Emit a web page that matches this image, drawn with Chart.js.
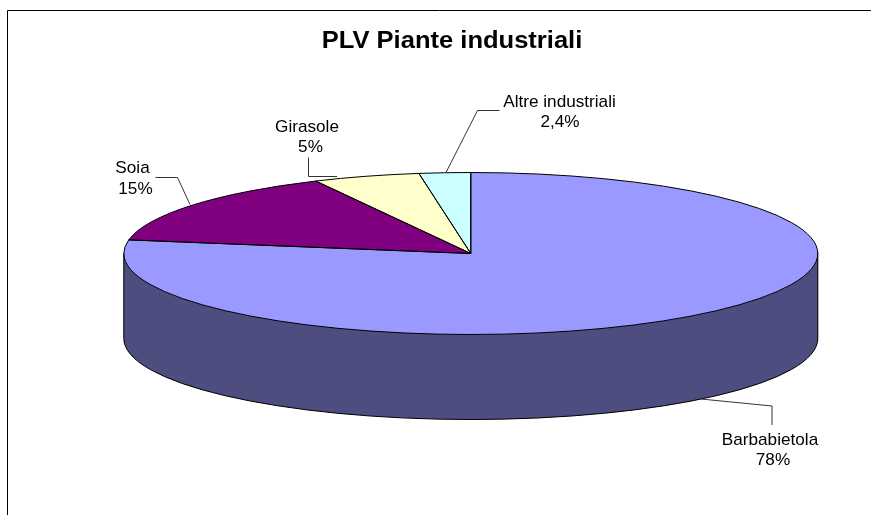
<!DOCTYPE html>
<html>
<head>
<meta charset="utf-8">
<style>html,body{margin:0;padding:0;background:#fff}canvas{display:block}</style>
<script src="https://cdn.jsdelivr.net/npm/chart.js@4"></script>
</head>
<body>
<canvas id="c" width="871" height="515"></canvas>
<script>
const chartTitle = 'PLV Piante industriali';
const categories = ['Barbabietola', 'Soia', 'Girasole', 'Altre industriali'];
const values = [78, 15, 5, 2.4];
const valueLabels = ['78%', '15%', '5%', '2,4%'];
const topColors = ['#9999FF', '#800080', '#FFFFCC', '#CCFFFF'];
const wallColors = ['#4D4D80', '#400040', '#808066', '#668080'];

// 3D pie geometry (tilted disc)
const disc = { cx: 470.8, cy: 253.5, rx: 347, ry: 81, depth: 85 };
const FONT = '"Liberation Sans", Arial, sans-serif';
const STRETCH = 1.01;

// label anchor: category centre/baseline, value centre/baseline
const labelPos = [
  { x: 770, y: 444.5, vx: 773, vy: 464.5 },
  { x: 132.5, y: 173, vx: 135.5, vy: 193.5 },
  { x: 307, y: 131.5, vx: 310.5, vy: 151.5 },
  { x: 559.5, y: 106.5, vx: 560, vy: 126.5 }
];
const leaders = [
  [[701, 399], [772, 406], [772, 425]],
  [[155.5, 177.5], [177.5, 177.5], [190, 204.5]],
  [[308.5, 157.5], [308.5, 176.5], [337, 176.5]],
  [[499.5, 110.5], [477.5, 110.5], [446, 172.5]]
];

function applyDisc(ctx, el, dy) {
  ctx.translate(disc.cx, disc.cy + dy);
  ctx.scale(disc.rx / el.outerRadius, disc.ry / el.outerRadius);
  ctx.translate(-el.x, -el.y);
}

function drawStretched(ctx, text, x, y) {
  ctx.save();
  ctx.translate(x, y);
  ctx.scale(STRETCH, 1);
  ctx.fillText(text, 0, 0);
  ctx.restore();
}

const disc3d = {
  id: 'disc3d',
  beforeDatasetsDraw(chart) {
    const ctx = chart.ctx;
    const arcs = chart.getDatasetMeta(0).data;
    // side wall: the front-facing slice repeated downwards in its dark colour
    arcs.forEach((el, i) => {
      if (!(el.startAngle < Math.PI && el.endAngle > 0)) return;
      const wall = Object.create(el);
      wall.options = Object.assign({}, el.options, { backgroundColor: wallColors[i], borderWidth: 0 });
      for (let d = disc.depth; d >= 1; d--) {
        ctx.save();
        applyDisc(ctx, el, d);
        wall.draw(ctx);
        ctx.restore();
      }
      // flatten the rounding left by the repeated antialiased fills
      ctx.save();
      ctx.globalCompositeOperation = 'source-atop';
      ctx.fillStyle = wallColors[i];
      ctx.fillRect(0, 0, chart.width, chart.height);
      ctx.restore();
    });
    ctx.save();
    applyDisc(ctx, arcs[0], 0);
  },
  afterDatasetsDraw(chart) {
    const ctx = chart.ctx;
    ctx.restore();
    const arcs = chart.getDatasetMeta(0).data;
    const { cx, cy, rx, ry, depth } = disc;

    // wall outline
    ctx.strokeStyle = '#000';
    ctx.lineWidth = 1;
    ctx.beginPath();
    ctx.moveTo(cx - rx, cy);
    ctx.lineTo(cx - rx, cy + depth);
    ctx.ellipse(cx, cy + depth, rx, ry, 0, Math.PI, 0, true);
    ctx.lineTo(cx + rx, cy);
    ctx.stroke();

    // slice outlines
    arcs.forEach(el => {
      ctx.beginPath();
      ctx.moveTo(cx, cy);
      ctx.ellipse(cx, cy, rx, ry, 0, el.startAngle, el.endAngle);
      ctx.closePath();
      ctx.stroke();
    });

    // frame
    ctx.beginPath();
    ctx.moveTo(7.5, 515);
    ctx.lineTo(7.5, 10.5);
    ctx.lineTo(871, 10.5);
    ctx.strokeStyle = '#000';
    ctx.stroke();

    // leader lines
    ctx.strokeStyle = '#333';
    leaders.forEach(pts => {
      ctx.beginPath();
      pts.forEach((p, i) => i ? ctx.lineTo(p[0], p[1]) : ctx.moveTo(p[0], p[1]));
      ctx.stroke();
    });

    // texts
    ctx.fillStyle = '#000';
    ctx.textAlign = 'center';
    ctx.textBaseline = 'alphabetic';
    ctx.font = '17px ' + FONT;
    categories.forEach((name, i) => {
      const p = labelPos[i];
      drawStretched(ctx, name, p.x, p.y);
      drawStretched(ctx, valueLabels[i], p.vx, p.vy);
    });
    ctx.font = 'bold 23px ' + FONT;
    ctx.save();
    ctx.translate(452, 48);
    ctx.scale(1.11, 1);
    ctx.fillText(chartTitle, 0, 0);
    ctx.restore();
  }
};

new Chart(document.getElementById('c'), {
  type: 'pie',
  data: {
    labels: categories,
    datasets: [{ data: values, backgroundColor: topColors, borderWidth: 0 }]
  },
  options: {
    responsive: false,
    animation: false,
    layout: { padding: 5 },
    plugins: { legend: { display: false }, title: { display: false }, tooltip: { enabled: false } }
  },
  plugins: [disc3d]
});
</script>
</body>
</html>
